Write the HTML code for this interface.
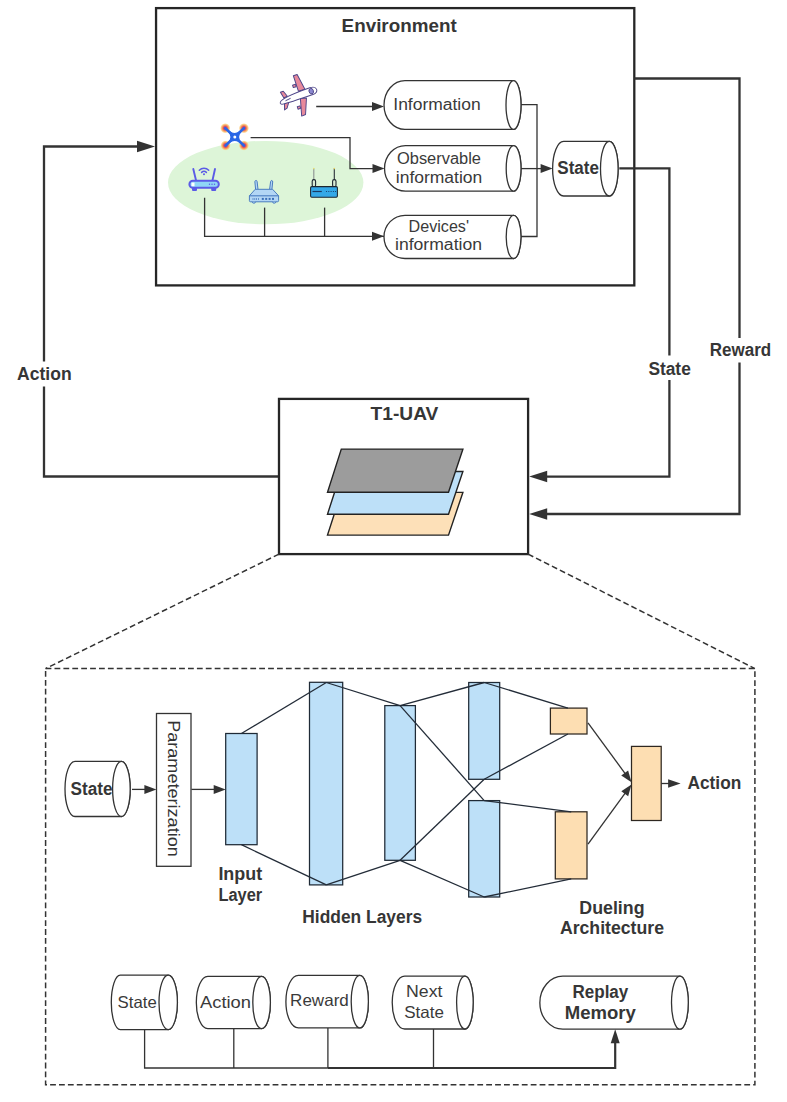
<!DOCTYPE html><html><head><meta charset="utf-8"><style>html,body{margin:0;padding:0;background:#fff;}svg{display:block;}text{font-family:"Liberation Sans",sans-serif;}</style></head><body>
<svg width="787" height="1102" viewBox="0 0 787 1102">
<rect x="0" y="0" width="787" height="1102" fill="#fff"/>
<rect x="156.05" y="8.1" width="478.25" height="277.3" fill="#fff" stroke="#262626" stroke-width="2.3"/>
<text x="341.60" y="31.70" font-size="17.5" font-weight="700" fill="#363636" textLength="115.10" lengthAdjust="spacingAndGlyphs">Environment</text>
<ellipse cx="265.7" cy="182.6" rx="97.7" ry="41.7" fill="#ddf5d8"/>
<path d="M316.20,106.50 L374.40,106.50" fill="none" stroke="#333333" stroke-width="1.3" stroke-linejoin="miter" stroke-linecap="butt"/>
<path d="M384.00,106.50 L372.00,111.00 L372.00,102.00 Z" fill="#333333"/>
<path d="M250.60,137.70 L350.00,137.70 L350.00,168.60 L374.90,168.60" fill="none" stroke="#333333" stroke-width="1.3" stroke-linejoin="miter" stroke-linecap="butt"/>
<path d="M384.50,168.60 L372.50,173.10 L372.50,164.10 Z" fill="#333333"/>
<path d="M204.60,197.70 L204.60,236.30 L384.00,236.30" fill="none" stroke="#333333" stroke-width="1.3" stroke-linejoin="miter" stroke-linecap="butt"/>
<path d="M264.60,207.60 L264.60,236.30" fill="none" stroke="#333333" stroke-width="1.3" stroke-linejoin="miter" stroke-linecap="butt"/>
<path d="M324.60,207.60 L324.60,236.30" fill="none" stroke="#333333" stroke-width="1.3" stroke-linejoin="miter" stroke-linecap="butt"/>
<path d="M384.00,236.30 L372.00,240.80 L372.00,231.80 Z" fill="#333333"/>
<path d="M521.00,104.70 L537.00,104.70 L537.00,236.50 L521.00,236.50" fill="none" stroke="#333333" stroke-width="1.3" stroke-linejoin="miter" stroke-linecap="butt"/>
<path d="M521.00,168.60 L543.00,168.60" fill="none" stroke="#333333" stroke-width="1.3" stroke-linejoin="miter" stroke-linecap="butt"/>
<path d="M552.60,168.60 L540.60,173.10 L540.60,164.10 Z" fill="#333333"/>
<path d="M405.00,80.60 L513.50,80.60 A7.50,24.40 0 0 1 513.50,129.40 L405.00,129.40 A21.00,24.40 0 0 1 405.00,80.60 Z" fill="#fff" stroke="#333333" stroke-width="1.3"/>
<ellipse cx="513.50" cy="105.00" rx="7.50" ry="24.40" fill="#fff" stroke="#333333" stroke-width="1.3"/>
<text x="393.30" y="110.00" font-size="16" font-weight="400" fill="#3a3a3a" textLength="87.30" lengthAdjust="spacingAndGlyphs">Information</text>
<path d="M405.50,145.60 L513.60,145.60 A7.40,22.80 0 0 1 513.60,191.20 L405.50,191.20 A21.00,22.80 0 0 1 405.50,145.60 Z" fill="#fff" stroke="#333333" stroke-width="1.3"/>
<ellipse cx="513.60" cy="168.40" rx="7.40" ry="22.80" fill="#fff" stroke="#333333" stroke-width="1.3"/>
<text x="397.00" y="163.80" font-size="16" font-weight="400" fill="#3a3a3a" textLength="84.00" lengthAdjust="spacingAndGlyphs">Observable</text>
<text x="395.80" y="182.60" font-size="16" font-weight="400" fill="#3a3a3a" textLength="86.50" lengthAdjust="spacingAndGlyphs">information</text>
<path d="M405.00,215.30 L513.60,215.30 A7.40,21.60 0 0 1 513.60,258.50 L405.00,258.50 A21.00,21.60 0 0 1 405.00,215.30 Z" fill="#fff" stroke="#333333" stroke-width="1.3"/>
<ellipse cx="513.60" cy="236.90" rx="7.40" ry="21.60" fill="#fff" stroke="#333333" stroke-width="1.3"/>
<text x="408.60" y="232.00" font-size="16" font-weight="400" fill="#3a3a3a" textLength="60.40" lengthAdjust="spacingAndGlyphs">Devices'</text>
<text x="395.00" y="250.20" font-size="16" font-weight="400" fill="#3a3a3a" textLength="87.00" lengthAdjust="spacingAndGlyphs">information</text>
<path d="M563.60,141.40 L609.30,141.40 A8.80,27.30 0 0 1 609.30,196.00 L563.60,196.00 A11.00,27.30 0 0 1 563.60,141.40 Z" fill="#fff" stroke="#333333" stroke-width="1.3"/>
<ellipse cx="609.30" cy="168.70" rx="8.80" ry="27.30" fill="#fff" stroke="#333333" stroke-width="1.3"/>
<text x="557.30" y="173.70" font-size="17.6" font-weight="700" fill="#363636" textLength="41.70" lengthAdjust="spacingAndGlyphs">State</text>
<path d="M619.30,168.30 L669.40,168.30 L669.40,476.60 L541.20,476.60" fill="none" stroke="#333333" stroke-width="2.3" stroke-linejoin="miter" stroke-linecap="butt"/>
<path d="M529.20,476.60 L547.20,470.85 L547.20,482.35 Z" fill="#333333"/>
<path d="M634.30,78.50 L739.50,78.50 L739.50,514.00 L541.20,514.00" fill="none" stroke="#333333" stroke-width="2.3" stroke-linejoin="miter" stroke-linecap="butt"/>
<path d="M529.20,514.00 L547.20,508.25 L547.20,519.75 Z" fill="#333333"/>
<path d="M279.00,476.50 L44.00,476.50 L44.00,146.50 L143.00,146.50" fill="none" stroke="#333333" stroke-width="2.3" stroke-linejoin="miter" stroke-linecap="butt"/>
<path d="M155.00,146.50 L137.00,152.25 L137.00,140.75 Z" fill="#333333"/>
<rect x="14" y="361.5" width="62" height="25" fill="#fff"/>
<text x="17.10" y="380.00" font-size="17.5" font-weight="700" fill="#363636" textLength="54.60" lengthAdjust="spacingAndGlyphs">Action</text>
<rect x="645" y="355.5" width="50" height="24.5" fill="#fff"/>
<text x="648.40" y="374.50" font-size="17.5" font-weight="700" fill="#363636" textLength="42.40" lengthAdjust="spacingAndGlyphs">State</text>
<rect x="706" y="338" width="68" height="24.5" fill="#fff"/>
<text x="709.80" y="356.00" font-size="17.5" font-weight="700" fill="#363636" textLength="61.40" lengthAdjust="spacingAndGlyphs">Reward</text>
<rect x="279" y="398.9" width="249.1" height="155.2" fill="#fff" stroke="#262626" stroke-width="2.3"/>
<text x="370.60" y="420.00" font-size="17.5" font-weight="700" fill="#363636" textLength="67.80" lengthAdjust="spacingAndGlyphs">T1-UAV</text>
<path d="M341.3,492.4 L462.9,492.4 L448.5,535.1 L327.5,535.1 Z" fill="#fde0b8" stroke="#222" stroke-width="1.4" stroke-linejoin="miter"/>
<path d="M341.3,471.5 L462.9,471.5 L448.5,514.2 L327.5,514.2 Z" fill="#bde0f8" stroke="#222" stroke-width="1.4" stroke-linejoin="miter"/>
<path d="M341.3,449.1 L462.9,449.1 L448.5,492.2 L327.5,492.2 Z" fill="#9c9c9c" stroke="#222" stroke-width="1.4" stroke-linejoin="miter"/>
<path d="M279,554.1 L45.6,668.6" stroke="#333" stroke-width="1.5" stroke-dasharray="5.8,3.1" fill="none"/>
<path d="M528.1,554.1 L754.9,668.6" stroke="#333" stroke-width="1.5" stroke-dasharray="5.8,3.1" fill="none"/>
<rect x="45.6" y="668.6" width="709.3" height="416.2" stroke="#333" stroke-width="1.5" stroke-dasharray="5.8,3.1" fill="none"/>
<path d="M75.00,761.30 L121.40,761.30 A8.80,27.60 0 0 1 121.40,816.50 L75.00,816.50 A10.00,27.60 0 0 1 75.00,761.30 Z" fill="#fff" stroke="#333333" stroke-width="1.3"/>
<ellipse cx="121.40" cy="788.90" rx="8.80" ry="27.60" fill="#fff" stroke="#333333" stroke-width="1.3"/>
<text x="70.60" y="794.80" font-size="17.6" font-weight="700" fill="#363636" textLength="42.00" lengthAdjust="spacingAndGlyphs">State</text>
<path d="M132.00,789.40 L146.80,789.40" fill="none" stroke="#333333" stroke-width="1.3" stroke-linejoin="miter" stroke-linecap="butt"/>
<path d="M156.40,789.40 L144.40,793.90 L144.40,784.90 Z" fill="#333333"/>
<rect x="156.5" y="713.5" width="34.5" height="152.8" fill="#fff" stroke="#333333" stroke-width="1.3"/>
<text transform="translate(168.3,720.2) rotate(90)" x="0" y="0" font-size="17" fill="#333333" textLength="136.6" lengthAdjust="spacingAndGlyphs">Parameterization</text>
<path d="M191.40,789.40 L216.10,789.40" fill="none" stroke="#333333" stroke-width="1.3" stroke-linejoin="miter" stroke-linecap="butt"/>
<path d="M225.70,789.40 L213.70,793.90 L213.70,784.90 Z" fill="#333333"/>
<rect x="225.7" y="733.5" width="31.40" height="111.20" fill="#bde0f8" stroke="#1f2a36" stroke-width="1.25"/>
<rect x="309.5" y="682.3" width="33.20" height="202.60" fill="#bde0f8" stroke="#1f2a36" stroke-width="1.25"/>
<rect x="384.8" y="705.6" width="30.60" height="154.70" fill="#bde0f8" stroke="#1f2a36" stroke-width="1.25"/>
<rect x="468.7" y="682.5" width="31.00" height="96.80" fill="#bde0f8" stroke="#1f2a36" stroke-width="1.25"/>
<rect x="468.7" y="800.6" width="31.00" height="96.40" fill="#bde0f8" stroke="#1f2a36" stroke-width="1.25"/>
<rect x="550.4" y="708.1" width="36.60" height="25.90" fill="#fddeb2" stroke="#2e2720" stroke-width="1.25"/>
<rect x="555.3" y="811.8" width="31.70" height="67.10" fill="#fddeb2" stroke="#2e2720" stroke-width="1.25"/>
<rect x="631.5" y="746.4" width="29.70" height="74.10" fill="#fddeb2" stroke="#2e2720" stroke-width="1.25"/>
<path d="M241.40,733.50 L326.30,682.50" fill="none" stroke="#232c38" stroke-width="1.3" stroke-linejoin="miter" stroke-linecap="butt"/>
<path d="M241.40,844.70 L326.30,884.90" fill="none" stroke="#232c38" stroke-width="1.3" stroke-linejoin="miter" stroke-linecap="butt"/>
<path d="M326.30,682.50 L400.10,705.60" fill="none" stroke="#232c38" stroke-width="1.3" stroke-linejoin="miter" stroke-linecap="butt"/>
<path d="M326.30,884.90 L400.10,860.30" fill="none" stroke="#232c38" stroke-width="1.3" stroke-linejoin="miter" stroke-linecap="butt"/>
<path d="M400.10,705.60 L484.20,682.50" fill="none" stroke="#232c38" stroke-width="1.3" stroke-linejoin="miter" stroke-linecap="butt"/>
<path d="M400.10,705.60 L484.20,800.60" fill="none" stroke="#232c38" stroke-width="1.3" stroke-linejoin="miter" stroke-linecap="butt"/>
<path d="M400.10,860.30 L484.20,779.30" fill="none" stroke="#232c38" stroke-width="1.3" stroke-linejoin="miter" stroke-linecap="butt"/>
<path d="M400.10,860.30 L484.20,897.00" fill="none" stroke="#232c38" stroke-width="1.3" stroke-linejoin="miter" stroke-linecap="butt"/>
<path d="M484.20,682.50 L567.90,708.10" fill="none" stroke="#232c38" stroke-width="1.3" stroke-linejoin="miter" stroke-linecap="butt"/>
<path d="M484.20,779.30 L567.90,734.00" fill="none" stroke="#232c38" stroke-width="1.3" stroke-linejoin="miter" stroke-linecap="butt"/>
<path d="M484.20,800.60 L571.20,811.80" fill="none" stroke="#232c38" stroke-width="1.3" stroke-linejoin="miter" stroke-linecap="butt"/>
<path d="M484.20,897.00 L571.20,878.90" fill="none" stroke="#232c38" stroke-width="1.3" stroke-linejoin="miter" stroke-linecap="butt"/>
<path d="M588.00,722.90 L626.06,774.78" fill="none" stroke="#333333" stroke-width="1.3" stroke-linejoin="miter" stroke-linecap="butt"/>
<path d="M631.50,782.20 L621.27,775.44 L628.12,770.41 Z" fill="#333333"/>
<path d="M588.00,844.10 L626.08,791.84" fill="none" stroke="#333333" stroke-width="1.3" stroke-linejoin="miter" stroke-linecap="butt"/>
<path d="M631.50,784.40 L628.16,796.20 L621.29,791.19 Z" fill="#333333"/>
<path d="M661.20,783.50 L670.60,783.50" fill="none" stroke="#333333" stroke-width="1.3" stroke-linejoin="miter" stroke-linecap="butt"/>
<path d="M680.60,783.50 L668.10,787.75 L668.10,779.25 Z" fill="#333333"/>
<text x="218.40" y="879.60" font-size="17.6" font-weight="700" fill="#363636" textLength="43.80" lengthAdjust="spacingAndGlyphs">Input</text>
<text x="218.40" y="900.60" font-size="17.6" font-weight="700" fill="#363636" textLength="43.80" lengthAdjust="spacingAndGlyphs">Layer</text>
<text x="302.30" y="923.30" font-size="17.6" font-weight="700" fill="#363636" textLength="119.80" lengthAdjust="spacingAndGlyphs">Hidden Layers</text>
<text x="579.30" y="914.00" font-size="17.6" font-weight="700" fill="#363636" textLength="65.20" lengthAdjust="spacingAndGlyphs">Dueling</text>
<text x="559.90" y="933.80" font-size="17.6" font-weight="700" fill="#363636" textLength="104.10" lengthAdjust="spacingAndGlyphs">Architecture</text>
<text x="687.50" y="789.20" font-size="17.6" font-weight="700" fill="#363636" textLength="53.80" lengthAdjust="spacingAndGlyphs">Action</text>
<path d="M144.60,1029.60 L144.60,1068.00 L327.90,1068.00" fill="none" stroke="#333333" stroke-width="1.3" stroke-linejoin="miter" stroke-linecap="butt"/>
<path d="M233.80,1028.60 L233.80,1068.00" fill="none" stroke="#333333" stroke-width="1.3" stroke-linejoin="miter" stroke-linecap="butt"/>
<path d="M327.90,1027.90 L327.90,1068.00" fill="none" stroke="#333333" stroke-width="1.3" stroke-linejoin="miter" stroke-linecap="butt"/>
<path d="M433.50,1029.00 L433.50,1068.00" fill="none" stroke="#333333" stroke-width="1.3" stroke-linejoin="miter" stroke-linecap="butt"/>
<path d="M327.90,1068.00 L615.20,1068.00 L615.20,1039.20" fill="none" stroke="#333333" stroke-width="2.2" stroke-linejoin="miter" stroke-linecap="butt"/>
<path d="M615.20,1029.20 L619.70,1043.20 L610.70,1043.20 Z" fill="#333333"/>
<path d="M120.30,975.20 L168.20,975.20 A9.20,27.20 0 0 1 168.20,1029.60 L120.30,1029.60 A9.00,27.20 0 0 1 120.30,975.20 Z" fill="#fff" stroke="#333333" stroke-width="1.3"/>
<ellipse cx="168.20" cy="1002.40" rx="9.20" ry="27.20" fill="#fff" stroke="#333333" stroke-width="1.3"/>
<text x="117.60" y="1007.60" font-size="16.5" font-weight="400" fill="#3a3a3a" textLength="39.10" lengthAdjust="spacingAndGlyphs">State</text>
<path d="M207.80,976.40 L261.60,976.40 A8.80,26.15 0 0 1 261.60,1028.70 L207.80,1028.70 A11.50,26.15 0 0 1 207.80,976.40 Z" fill="#fff" stroke="#333333" stroke-width="1.3"/>
<ellipse cx="261.60" cy="1002.55" rx="8.80" ry="26.15" fill="#fff" stroke="#333333" stroke-width="1.3"/>
<text x="200.00" y="1007.60" font-size="16.5" font-weight="400" fill="#3a3a3a" textLength="51.00" lengthAdjust="spacingAndGlyphs">Action</text>
<path d="M298.40,975.40 L359.80,975.40 A8.60,26.25 0 0 1 359.80,1027.90 L298.40,1027.90 A12.50,26.25 0 0 1 298.40,975.40 Z" fill="#fff" stroke="#333333" stroke-width="1.3"/>
<ellipse cx="359.80" cy="1001.65" rx="8.60" ry="26.25" fill="#fff" stroke="#333333" stroke-width="1.3"/>
<text x="290.10" y="1006.10" font-size="16.5" font-weight="400" fill="#3a3a3a" textLength="58.70" lengthAdjust="spacingAndGlyphs">Reward</text>
<path d="M404.70,976.20 L464.90,976.20 A8.30,26.40 0 0 1 464.90,1029.00 L404.70,1029.00 A12.50,26.40 0 0 1 404.70,976.20 Z" fill="#fff" stroke="#333333" stroke-width="1.3"/>
<ellipse cx="464.90" cy="1002.60" rx="8.30" ry="26.40" fill="#fff" stroke="#333333" stroke-width="1.3"/>
<text x="406.10" y="997.20" font-size="16.5" font-weight="400" fill="#3a3a3a" textLength="36.40" lengthAdjust="spacingAndGlyphs">Next</text>
<text x="404.20" y="1018.10" font-size="16.5" font-weight="400" fill="#3a3a3a" textLength="39.70" lengthAdjust="spacingAndGlyphs">State</text>
<path d="M562.80,976.20 L679.90,976.20 A8.40,26.50 0 0 1 679.90,1029.20 L562.80,1029.20 A23.00,26.50 0 0 1 562.80,976.20 Z" fill="#fff" stroke="#333333" stroke-width="1.3"/>
<ellipse cx="679.90" cy="1002.70" rx="8.40" ry="26.50" fill="#fff" stroke="#333333" stroke-width="1.3"/>
<text x="572.50" y="998.10" font-size="17.6" font-weight="700" fill="#363636" textLength="55.80" lengthAdjust="spacingAndGlyphs">Replay</text>
<text x="564.80" y="1018.90" font-size="17.6" font-weight="700" fill="#363636" textLength="71.10" lengthAdjust="spacingAndGlyphs">Memory</text>
<g id="plane" transform="translate(298.5,95.4) rotate(-17.5)" stroke="#4d4588" stroke-width="0.95" stroke-linejoin="round">
  <path d="M1.2,-3.9 L1,-20.3 L5,-20.4 L8,-4 Z" fill="#e8899b"/>
  <rect x="-2.6" y="-11.6" width="3" height="2.6" fill="#e8899b"/>
  <path d="M0.85,3.6 L6.8,4.9 L1,20.3 L-3.2,20.7 Z" fill="#e8899b"/>
  <rect x="-4.6" y="10.4" width="2.8" height="2.6" fill="#e8899b"/>
  <path d="M-16.3,-8.5 L-13.3,-8.5 L-11,-2.8 L-14.7,-1.9 Z" fill="#e8899b"/>
  <path d="M-15.6,3 L-11.4,3.7 L-14.7,8.7 L-17.7,9.7 Z" fill="#e8899b"/>
  <path d="M-19.5,1.2 C-18,-1.5 -8,-3.2 13,-3.9 C20.8,-4.1 21.2,3.4 14,3.5 C-2,4 -12,4.3 -17.5,3.6 C-19.8,3.3 -20,2 -19.5,1.2 Z" fill="#fff"/>
  <ellipse cx="13.4" cy="-0.2" rx="2.2" ry="2.8" fill="#8b87cf" stroke-width="0.9"/>
  <path d="M-14,1.2 L-8.4,0.4" fill="none" stroke-width="0.9"/>
</g>
<g id="drone">
  <defs>
    <radialGradient id="rot" cx="50%" cy="50%" r="50%">
      <stop offset="0" stop-color="#c8387a"/>
      <stop offset="0.35" stop-color="#de4a63"/>
      <stop offset="0.58" stop-color="#f5995c"/>
      <stop offset="0.8" stop-color="#fcc77a" stop-opacity="0.8"/>
      <stop offset="1" stop-color="#fde2a0" stop-opacity="0"/>
    </radialGradient>
  </defs>
  <circle cx="225.3" cy="128.2" r="5.2" fill="url(#rot)"/><circle cx="243.9" cy="128.2" r="5.2" fill="url(#rot)"/>
  <circle cx="225.6" cy="145.5" r="5.2" fill="url(#rot)"/><circle cx="243.9" cy="145.5" r="5.2" fill="url(#rot)"/>
  <path d="M225.3,128.2 L243.9,145.5 M243.9,128.2 L225.6,145.5" stroke="#2a66e6" stroke-width="2.6" stroke-linecap="round"/>
  <path d="M228.2,130.9 Q234.8,136.2 241.2,130.9 Q235.8,137.1 241.2,142.9 Q234.8,137.9 228.4,142.9 Q233.8,137.1 228.2,130.9 Z" fill="#2a66e6" stroke="#2a66e6" stroke-width="1.2" stroke-linejoin="round"/>
  <circle cx="234.8" cy="137" r="1.5" fill="#fff"/>
</g>
<g id="router1">
  <path d="M193.3,169 L196,180.3 M215,169 L212.5,180.3" stroke="#5b5be6" stroke-width="1.9" stroke-linecap="round"/>
  <rect x="192" y="187.5" width="5" height="3.5" rx="1" fill="#5b5be6"/>
  <rect x="211.2" y="187.5" width="5" height="3.5" rx="1" fill="#5b5be6"/>
  <rect x="189.4" y="180.8" width="29.4" height="7" rx="3.5" fill="#8fd6f6" stroke="#5b5be6" stroke-width="2"/>
  <rect x="191.5" y="182.6" width="3" height="3.6" fill="#fff"/>
  <g fill="#5b5be6"><circle cx="209.5" cy="184.3" r="0.7"/><circle cx="212" cy="184.3" r="0.7"/><circle cx="214.5" cy="184.3" r="0.7"/></g>
  <path d="M199.3,170.2 A6.5,6.5 0 0 1 208.7,170.2 M201.6,172.4 A3.4,3.4 0 0 1 206.4,172.4" fill="none" stroke="#5b5be6" stroke-width="1.5" stroke-linecap="round"/>
  <circle cx="204" cy="174.2" r="1" fill="#5b5be6"/>
</g>
<g id="router2" stroke="#4a7cc0" stroke-width="1" stroke-linejoin="round">
  <path d="M255.6,189.4 L254.9,182 C254.7,180 257,180 257.1,181.5 L258,189.4" fill="#b3d6f5"/>
  <path d="M269.6,189.4 L270.6,181.5 C270.9,180 273,180.3 272.7,182 L271.9,189.4" fill="#b3d6f5"/>
  <path d="M255.2,189.3 L272.6,189.3 L278.6,195.8 L278.6,200.6 Q278.6,201.8 277.4,201.8 L250.6,201.8 Q249.4,201.8 249.4,200.6 L249.4,195.8 Z" fill="#b3d6f5"/>
  <path d="M249.4,195.8 L278.6,195.8" fill="none" stroke-width="1.1"/>
  <path d="M252.3,201.8 A1.6,1.4 0 0 0 255.5,201.8 M272.6,201.8 A1.6,1.4 0 0 0 275.8,201.8" fill="#b3d6f5"/>
  <g fill="#3a6fb8" stroke="none">
    <rect x="252.6" y="198.2" width="0.8" height="1.6"/><rect x="254.4" y="198.2" width="0.8" height="1.6"/><rect x="256.2" y="198.2" width="0.8" height="1.6"/><rect x="258" y="198.2" width="0.8" height="1.6"/>
    <rect x="261.8" y="197.9" width="2" height="2"/><rect x="265.2" y="197.9" width="2" height="2"/><rect x="268.6" y="197.9" width="2" height="2"/><rect x="272" y="197.9" width="2" height="2"/>
  </g>
</g>
<g id="router3">
  <path d="M313.8,168.4 L313.8,180" stroke="#8a9090" stroke-width="1.1"/><path d="M334.3,168.4 L334.3,180" stroke="#2a3038" stroke-width="1.1"/><circle cx="313.8" cy="168.6" r="0.8" fill="#e8e070"/><circle cx="334.3" cy="168.6" r="0.8" fill="#e8d060"/>
  <rect x="312.2" y="179.6" width="3.4" height="7.2" rx="1.6" fill="#d9ecd5" stroke="#1d2630" stroke-width="1.1"/>
  <rect x="332.6" y="179.6" width="3.4" height="7.2" rx="1.6" fill="#d9ecd5" stroke="#1d2630" stroke-width="1.1"/>
  <rect x="310.6" y="186.6" width="26.8" height="10.6" rx="1.2" fill="#33a8e8" stroke="#1d2630" stroke-width="1.05"/>
  <path d="M312.5,191.5 L321.8,191.5" stroke="#173a63" stroke-width="1.2"/>
  <g fill="#173a63"><circle cx="326.5" cy="191.5" r="0.6"/><circle cx="328.8" cy="191.5" r="0.6"/><circle cx="331.1" cy="191.5" r="0.6"/><circle cx="333.4" cy="191.5" r="0.6"/><circle cx="335.5" cy="191.5" r="0.6"/></g>
</g>

</svg></body></html>
